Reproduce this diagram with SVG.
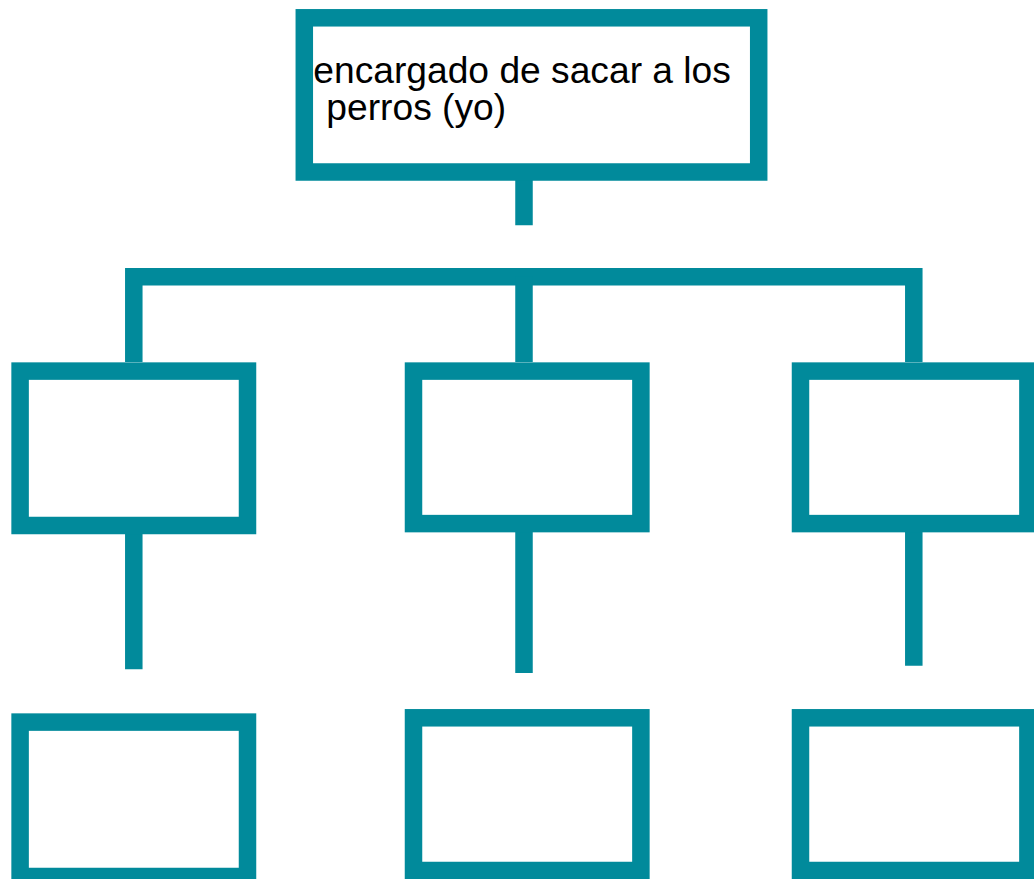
<svg xmlns="http://www.w3.org/2000/svg" width="1034" height="879" viewBox="0 0 1034 879">
  <style>
    .box { fill: #ffffff; stroke: #018a9b; stroke-width: 17.5; }
    .conn { fill: none; stroke: #018a9b; stroke-width: 17.5; stroke-linejoin: miter; stroke-linecap: butt; }
    .label { font-family: "Liberation Sans", Arial, sans-serif; font-size: 37.2px; fill: #000000; }
  </style>
  <rect width="1034" height="879" fill="#ffffff"/>
  <g id="connectors">
    <path class="conn" d="M524 172 V225.3"/>
    <path class="conn" d="M133.8 362 V276.7 H913.8 V362"/>
    <path class="conn" d="M524 276.7 V362"/>
    <path class="conn" d="M133.8 534 V669.3"/>
    <path class="conn" d="M524 532 V673"/>
    <path class="conn" d="M913.8 532 V665.7"/>
  </g>
  <g id="root">
    <rect class="box" x="304.3" y="17.8" width="454.4" height="154.2"/>
    <text class="label" xml:space="preserve"><tspan x="313.3" y="82.6">encargado de sacar a los</tspan><tspan x="316" y="120"> perros (yo)</tspan></text>
  </g>
  <g id="child1"><rect class="box" x="20.1" y="371.1" width="227.4" height="154.4"/></g>
  <g id="child2"><rect class="box" x="413.5" y="371.1" width="227.4" height="152.5"/></g>
  <g id="child3"><rect class="box" x="800.5" y="371.1" width="227.4" height="152.5"/></g>
  <g id="grandchild1"><rect class="box" x="20.1" y="722.1" width="227.4" height="154.4"/></g>
  <g id="grandchild2"><rect class="box" x="413.5" y="717.8" width="227.4" height="152.7"/></g>
  <g id="grandchild3"><rect class="box" x="800.5" y="717.8" width="227.4" height="152.7"/></g>
</svg>
